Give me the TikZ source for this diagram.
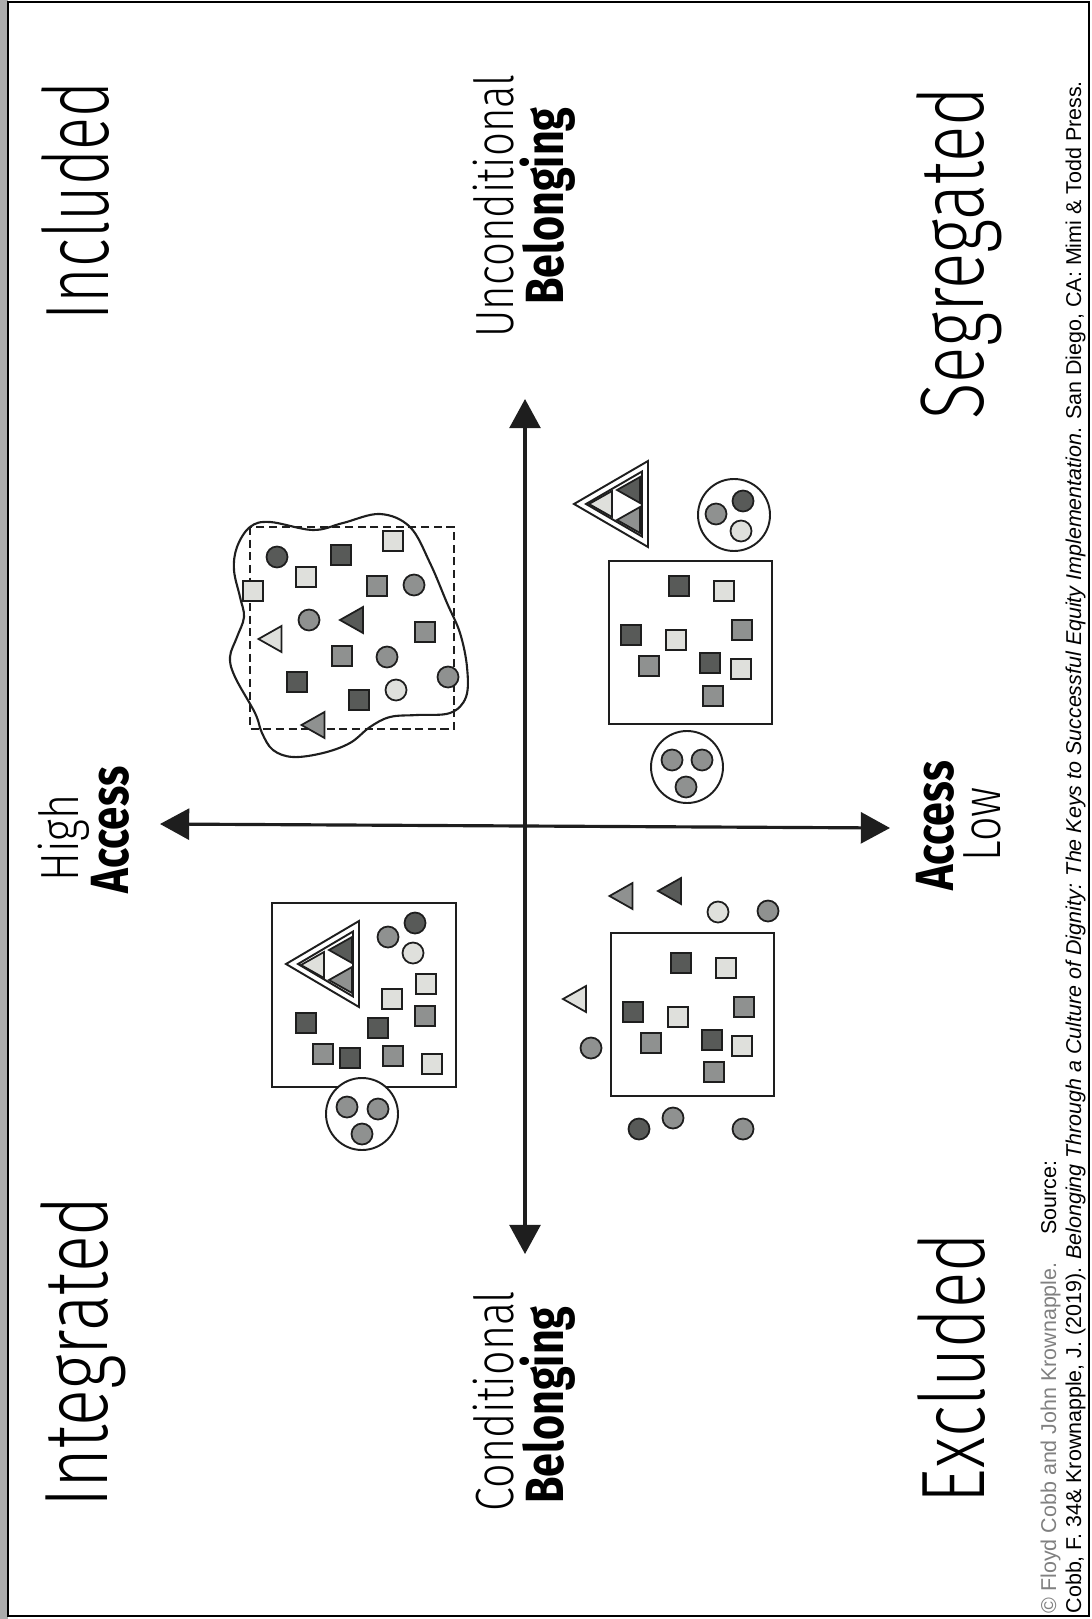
\documentclass[tikz,border=0pt]{standalone}
\usepackage{fontspec}
\setmainfont{Liberation Sans}
\newfontfamily\lightsans{Fira Sans Light}
\newfontfamily\headsans{Fira Sans}
\usetikzlibrary{arrows.meta}

\definecolor{shdark}{RGB}{88,90,88}
\definecolor{shmid}{RGB}{143,145,144}
\definecolor{shlight}{RGB}{223,224,220}
\definecolor{ink}{RGB}{30,30,30}

% little markers, centre given in pixels
\newcommand{\sqmark}[3]{\filldraw[shapeline,fill=#3] (#1-10,#2-10) rectangle (#1+10,#2+10);}
\newcommand{\cimark}[3]{\filldraw[shapeline,fill=#3] (#1,#2) circle[radius=10.5];}
\newcommand{\trimark}[3]{\filldraw[shapeline,fill=#3] (#1-11.5,#2) -- (#1+11.5,#2-13) -- (#1+11.5,#2+13) -- cycle;}
% big triangle with double rim, apex x, back x, centre y
\newcommand{\bigtri}[3]{%
  \draw[line width=0.55pt,ink] (#1,#3) -- (#2,#3-43) -- (#2,#3+43) -- cycle;
  \draw[line width=0.55pt,ink] (#1+12,#3) -- (#2-6,#3-32.5) -- (#2-6,#3+32.5) -- cycle;}
% circle holding three dots
\newcommand{\dotbag}[2]{\filldraw[line width=0.55pt,draw=ink,fill=white] (#1,#2) circle[radius=36];}
\newcommand{\narrow}[2][0.72]{\scalebox{#1}[1]{#2}}

\begin{document}
\begin{tikzpicture}[x=0.01cm,y=-0.01cm,>={Triangle[length=8.3pt,width=8.8pt]},
  shapeline/.style={draw=ink,line width=0.5pt},
  bigword/.style={rotate=90,anchor=base,inner sep=0pt,font=\lightsans\fontsize{25.6}{30}\selectfont},
  axlight/.style={rotate=90,anchor=base,inner sep=0pt,font=\lightsans\fontsize{15.3}{18}\selectfont},
  axbold/.style={rotate=90,anchor=base,inner sep=0pt,font=\headsans\bfseries\fontsize{15.3}{18}\selectfont},
  cite/.style={rotate=90,anchor=base west,inner sep=0pt,font=\fontsize{6.1}{7}\selectfont}]

\useasboundingbox (0,0) rectangle (1091,1619);

% frame with shadow strip
\fill[gray!65] (0,0) rectangle (8,1619);
\draw[line width=0.7pt] (8,2) rectangle (1089,1616);

% axes
\coordinate (belTop) at (525,399);
\coordinate (belBot) at (525,1254);
\coordinate (accHigh) at (160,824);
\coordinate (accLow) at (890,828);
\draw[<->,line width=0.9pt,ink] (belBot) -- (belTop);
\draw[<->,line width=0.9pt,ink] (accHigh) -- (accLow);

% quadrant names
\node[bigword] (included) at (108,201) {\narrow[0.68]{Included}};
\node[bigword] (integrated) at (107,1352) {\narrow[0.76]{Integrated}};
\node[bigword] (segregated) at (983,253) {\narrow[0.75]{Segregated}};
\node[bigword] (excluded) at (984,1368) {\narrow[0.75]{Excluded}};

% axis labels
\node[axlight] (uncond) at (513,206) {\narrow[0.78]{Unconditional}};
\node[axbold] (belongA) at (563,206) {\narrow[0.8]{Belonging}};
\node[axlight] (cond) at (513,1401) {\narrow[0.8]{Conditional}};
\node[axbold] (belongB) at (563,1405) {\narrow[0.8]{Belonging}};
\node[axlight] (high) at (78,838) {\narrow[0.8]{High}};
\node[axbold] (accessA) at (128,830) {\narrow[0.78]{Access}};
\node[axbold] (accessB) at (953,826) {\narrow[0.8]{Access}};
\node[axlight] (low) at (1000,824) {\narrow[0.8]{Low}};

% source lines
\node[cite] (copy) at (1056,1614) {\textcolor{gray}{© Floyd Cobb and John Krownapple.}\hspace{1.3em}Source:};
\node[cite] (source) at (1081,1614) {Cobb, F. 34\& Krownapple, J. (2019). \textit{Belonging Through a Culture of Dignity: The Keys to Successful Equity Implementation}. San Diego, CA: Mimi \& Todd Press.};

% included: loose boundary over a dashed box
\draw[line width=0.75pt,ink,dash pattern=on 2.3pt off 1.3pt] (250,527) rectangle (454,729);
\draw[line width=0.6pt,ink] plot[smooth cycle,tension=0.6] coordinates {
  (250,527) (270,522) (313,530) (343,523) (380,514) (410,527) (430,563)
  (447,603) (460,633) (467,667) (466,697) (450,713) (417,715) (390,717)
  (370,727) (350,743) (323,753) (293,757) (273,750) (262,733) (255,713)
  (235,677) (230,657) (237,637) (244,617) (240,597) (234,570) (237,547)};
\foreach \px/\py/\sh in {341/555/shdark,393/541/shlight,306/577/shlight,253/591/shlight,
  377/586/shmid,425/632/shmid,342/656/shmid,297/682/shdark,359/700/shdark}
  {\sqmark{\px}{\py}{\sh}}
\foreach \px/\py/\sh in {277/557/shdark,414/585/shmid,309/620/shmid,387/657/shmid,
  396/690/shlight,448/677/shmid}
  {\cimark{\px}{\py}{\sh}}
\trimark{351.5}{620}{shdark}
\trimark{270}{639}{shlight}
\trimark{313}{725}{shmid}

% segregated
\bigtri{574}{648}{504}
\trimark{600.5}{504}{shlight}
\trimark{628.5}{490}{shdark}
\trimark{628.5}{520}{shmid}
\dotbag{734}{515}
\cimark{716}{514}{shmid}
\cimark{743}{501}{shdark}
\cimark{741}{531}{shlight}
\draw[line width=0.6pt,ink] (609,561) rectangle (772,724);
\foreach \px/\py/\sh in {679/586/shdark,724/591/shlight,631/635/shdark,676/640/shlight,
  742/630/shmid,649/666/shmid,710/663/shdark,741/669/shlight,713/696/shmid}
  {\sqmark{\px}{\py}{\sh}}
\dotbag{687}{767}
\foreach \px/\py in {672/760,702/760,686/787}
  {\cimark{\px}{\py}{shmid}}

% integrated
\draw[line width=0.6pt,ink] (272,903) rectangle (456,1087);
\bigtri{286}{359}{964}
\trimark{312.5}{965}{shlight}
\trimark{340.5}{950}{shdark}
\trimark{340.5}{980}{shmid}
\foreach \px/\py/\sh in {388/937/shmid,415/923/shdark,413/953/shlight}
  {\cimark{\px}{\py}{\sh}}
\foreach \px/\py/\sh in {426/984/shlight,392/999/shlight,425/1016/shmid,306/1023/shdark,
  378/1028/shdark,323/1054/shmid,350/1058/shdark,393/1056/shmid,432/1064/shlight}
  {\sqmark{\px}{\py}{\sh}}
\dotbag{362}{1114}
\foreach \px/\py in {347/1107,378/1109,362/1134}
  {\cimark{\px}{\py}{shmid}}

% excluded
\draw[line width=0.6pt,ink] (611,933) rectangle (774,1096);
\foreach \px/\py/\sh in {681/963/shdark,726/968/shlight,633/1012/shdark,678/1017/shlight,
  744/1007/shmid,651/1043/shmid,712/1040/shdark,742/1046/shlight,714/1072/shmid}
  {\sqmark{\px}{\py}{\sh}}
\trimark{621}{896}{shmid}
\trimark{669.5}{891}{shdark}
\trimark{574.5}{999}{shlight}
\foreach \px/\py/\sh in {718/912/shlight,768/911/shmid,591/1048/shmid,
  639/1129/shdark,673/1118/shmid,743/1129/shmid}
  {\cimark{\px}{\py}{\sh}}

\end{tikzpicture}
\end{document}
